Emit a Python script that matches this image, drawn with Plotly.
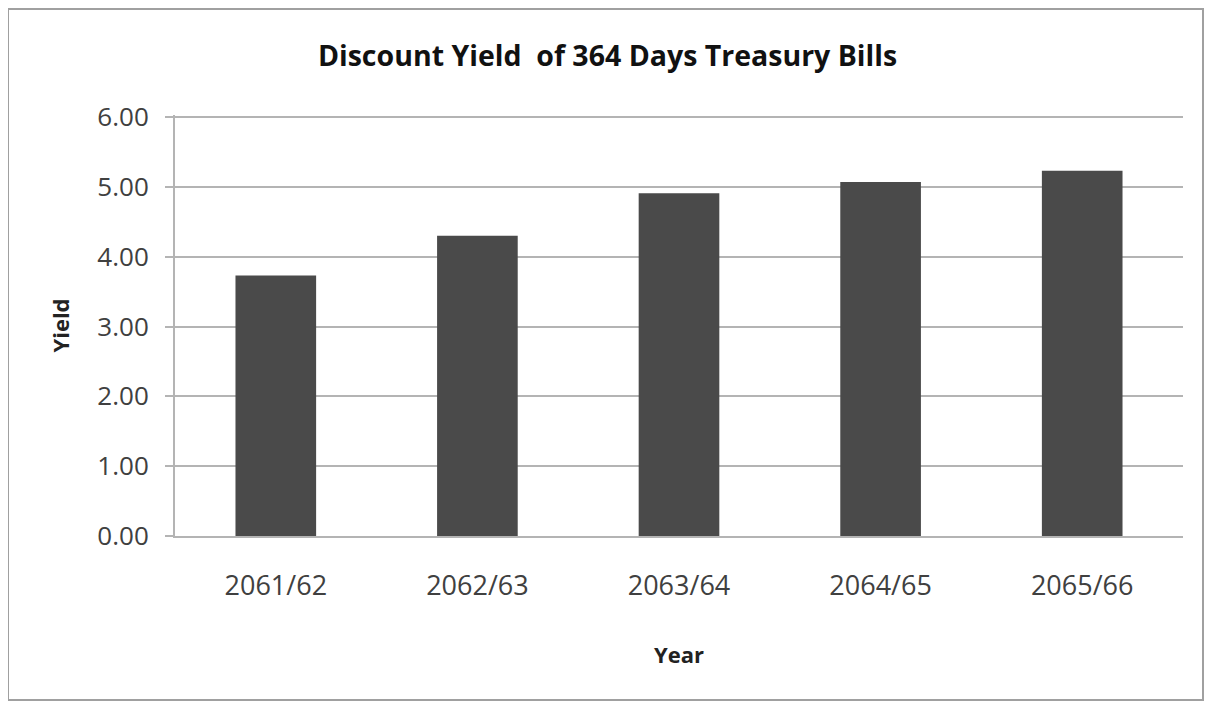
import plotly.graph_objects as go

years = ["2061/62", "2062/63", "2063/64", "2064/65", "2065/66"]
yield_values = [3.73, 4.30, 4.91, 5.07, 5.23]
y_ticks = [0, 1, 2, 3, 4, 5, 6]

FONT = "Open Sans, Noto Sans, sans-serif"

# page body adds 8px margin, so figure is sized to fit within the 1215x709 window
W, H = 1199, 693
L, R, T, B = 167, 24, 107, 165
PW, PH = W - L - R, H - T - B

fig = go.Figure(go.Bar(x=years, y=yield_values, marker=dict(color="#4a4a4a", line=dict(width=0)),
                       width=0.4))

fig.update_layout(
    width=W, height=H,
    margin=dict(l=L, r=R, t=T, b=B),
    paper_bgcolor="white", plot_bgcolor="white",
    showlegend=False,
    title=dict(text="<b>Discount Yield  of 364 Days Treasury Bills</b>", x=0.5, xref="container",
               xanchor="center", y=1 - 48 / H, yref="container", yanchor="middle",
               font=dict(family=FONT, size=28.5, color="#111111")),
    font=dict(family=FONT, color="#404040"),
)
fig.update_yaxes(range=[0, 6.03], tickvals=y_ticks, tickformat=".2f",
                 showgrid=True, gridcolor="#b4b4b4", gridwidth=2,
                 showline=True, linecolor="#b4b4b4", linewidth=2,
                 ticks="outside", ticklen=8, tickcolor="#b4b4b4", tickwidth=2,
                 tickfont=dict(size=26, color="#404040"), ticklabelstandoff=11,
                 title=dict(text="<b>Yield</b>", font=dict(size=22, color="#222222"), standoff=22),
                 zeroline=False)
fig.update_xaxes(showline=True, linecolor="#b4b4b4", linewidth=2,
                 tickfont=dict(size=27, color="#404040"), ticklabelstandoff=25,
                 title=dict(text="<b>Year</b>", font=dict(size=22, color="#222222"), standoff=45))
fig.add_shape(type="rect", xref="paper", yref="paper",
              x0=(0 - L) / PW, x1=(W - 4 - L) / PW,
              y0=-(B - 1) / PH, y1=(PH + T - 1) / PH,
              line=dict(color="#a0a0a0", width=2), fillcolor="rgba(0,0,0,0)", layer="below")

fig.write_html("out.html")
